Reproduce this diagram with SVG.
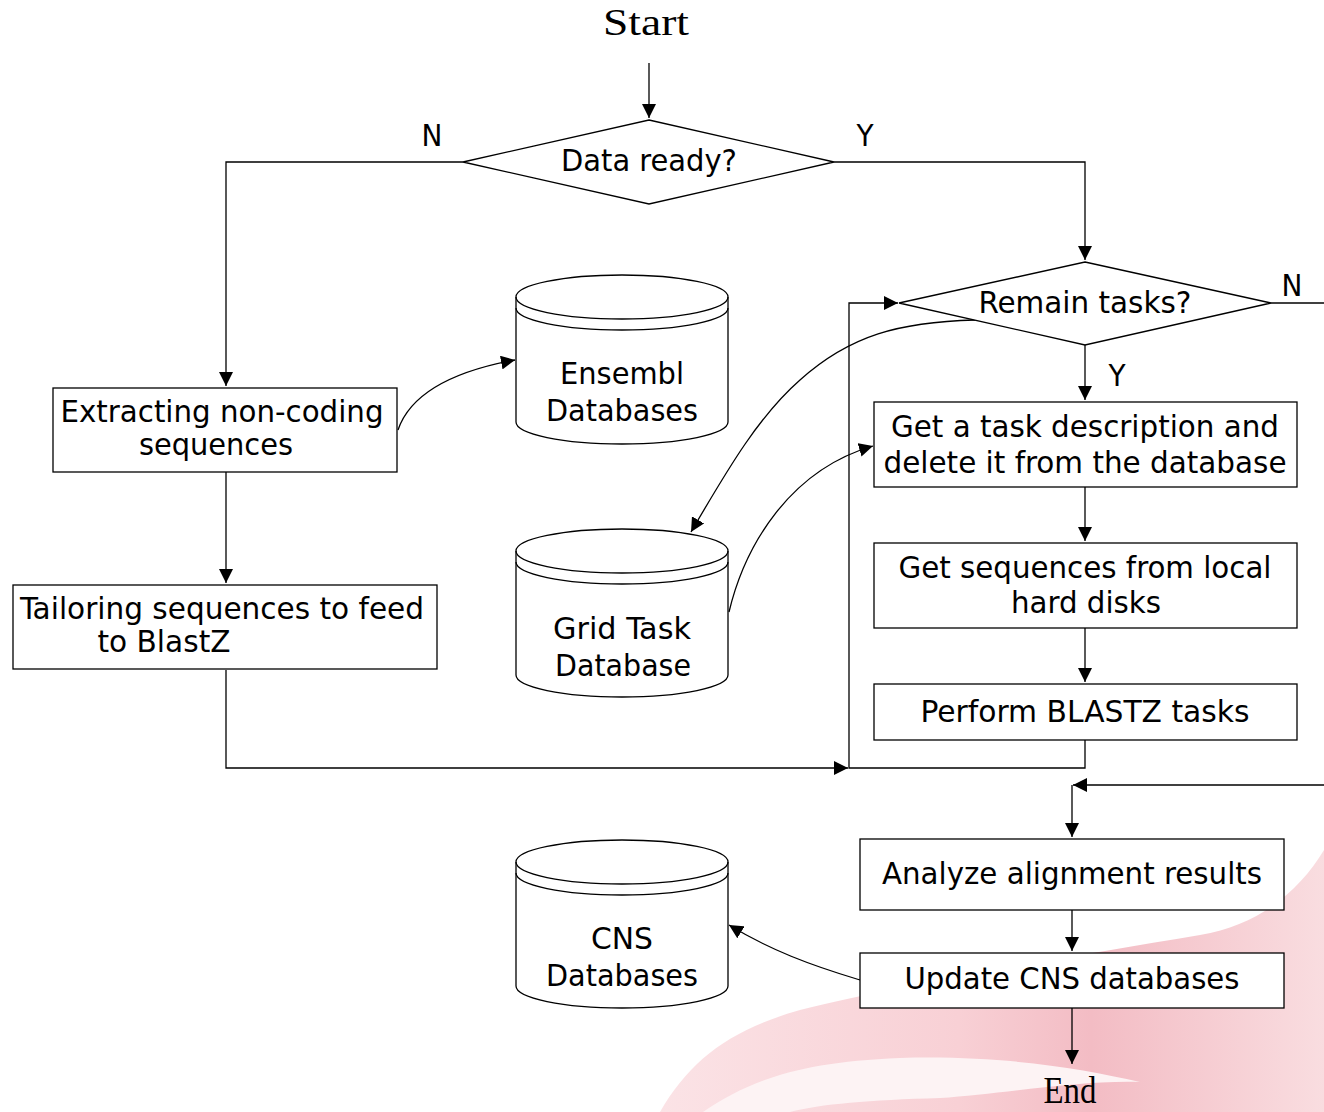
<svg xmlns="http://www.w3.org/2000/svg" width="1324" height="1112" viewBox="0 0 1324 1112">
<style>
.ln{fill:none;stroke:#000;stroke-width:1.3}
.bx{fill:#fff;stroke:#000;stroke-width:1.3}
.db{fill:none;stroke:#000;stroke-width:1.3}
.t{font-family:"DejaVu Sans Condensed","DejaVu Sans",sans-serif;font-size:31px;fill:#000;text-anchor:middle}
.s{font-family:"Liberation Serif",serif;font-size:37px;fill:#000;text-anchor:middle}
</style>
<defs>
<marker id="a" viewBox="0 0 10 10" refX="10" refY="5" markerWidth="14" markerHeight="14" markerUnits="userSpaceOnUse" orient="auto"><path d="M0,0L10,5L0,10z" fill="#000"/></marker>
<linearGradient id="pk" x1="660" y1="0" x2="1324" y2="0" gradientUnits="userSpaceOnUse">
<stop offset="0" stop-color="#fbe3e6"/><stop offset="0.45" stop-color="#f8d0d5"/><stop offset="0.65" stop-color="#f3bcc4"/><stop offset="1" stop-color="#f9dde0"/>
</linearGradient>
</defs>
<rect width="1324" height="1112" fill="#fff"/>
<g id="watermark">
<path d="M660,1112 C690,1060 730,1030 800,1010 C900,985 1050,960 1200,935 C1260,925 1300,890 1324,850 L1324,1112 Z" fill="url(#pk)"/>
<path d="M703,1112 C750,1080 800,1062 900,1058 C1000,1055 1080,1068 1140,1082 C1080,1080 1000,1094 940,1098 C870,1100 820,1104 790,1112 Z" fill="#fdf3f4"/>
</g>
<g id="connectors">
<path class="ln" d="M649,63V118" marker-end="url(#a)"/>
<path class="ln" d="M463,162H226V386" marker-end="url(#a)"/>
<path class="ln" d="M834,162H1085V260" marker-end="url(#a)"/>
<path class="ln" d="M1271,303H1324"/>
<path class="ln" d="M1085,345V400" marker-end="url(#a)"/>
<path class="ln" d="M1085,487V541" marker-end="url(#a)"/>
<path class="ln" d="M1085,628V682" marker-end="url(#a)"/>
<path class="ln" d="M1085,740V768H849V303H898" marker-end="url(#a)"/>
<path class="ln" d="M226,472V583" marker-end="url(#a)"/>
<path class="ln" d="M226,670V768H848" marker-end="url(#a)"/>
<path class="ln" d="M1324,785H1073" marker-end="url(#a)"/>
<path class="ln" d="M1072,785V837" marker-end="url(#a)"/>
<path class="ln" d="M1072,910V951" marker-end="url(#a)"/>
<path class="ln" d="M1072,1008V1064" marker-end="url(#a)"/>
<path class="ln" d="M398,430C410,395 450,372 515,360" marker-end="url(#a)"/>
<path class="ln" d="M975,320C900,322 850,335 800,380C760,415 730,465 691,532" marker-end="url(#a)"/>
<path class="ln" d="M729,612C745,545 790,470 873,446" marker-end="url(#a)"/>
<path class="ln" d="M860,980C810,965 770,950 729,925" marker-end="url(#a)"/>
</g>
<g id="start"><text class="s" x="646" y="35" textLength="86" lengthAdjust="spacingAndGlyphs">Start</text></g>
<g id="data-ready">
<path class="bx" d="M649,120L834,162L649,204L463,162Z"/>
<text class="t" x="649" y="171" textLength="176" lengthAdjust="spacingAndGlyphs">Data ready?</text>
<text class="t" x="432" y="146">N</text>
<text class="t" x="865" y="146">Y</text>
</g>
<g id="remain-tasks">
<path class="bx" d="M1085,262L1271,303L1085,345L899,303Z"/>
<text class="t" x="1085" y="313" textLength="213" lengthAdjust="spacingAndGlyphs">Remain tasks?</text>
<text class="t" x="1292" y="296">N</text>
<text class="t" x="1117" y="386">Y</text>
</g>
<g id="get-task">
<rect class="bx" x="874" y="402" width="423" height="85"/>
<text class="t" x="1085" y="437" textLength="388" lengthAdjust="spacingAndGlyphs">Get a task description and</text>
<text class="t" x="1085" y="473" textLength="403" lengthAdjust="spacingAndGlyphs">delete it from the database</text>
</g>
<g id="get-seq">
<rect class="bx" x="874" y="543" width="423" height="85"/>
<text class="t" x="1085" y="578" textLength="373" lengthAdjust="spacingAndGlyphs">Get sequences from local</text>
<text class="t" x="1086" y="613" textLength="150" lengthAdjust="spacingAndGlyphs">hard disks</text>
</g>
<g id="perform">
<rect class="bx" x="874" y="684" width="423" height="56"/>
<text class="t" x="1085" y="722" textLength="329" lengthAdjust="spacingAndGlyphs">Perform BLASTZ tasks</text>
</g>
<g id="analyze">
<rect class="bx" x="860" y="839" width="424" height="71"/>
<text class="t" x="1072" y="884" textLength="380" lengthAdjust="spacingAndGlyphs">Analyze alignment results</text>
</g>
<g id="update">
<rect class="bx" x="860" y="953" width="424" height="55"/>
<text class="t" x="1072" y="989" textLength="335" lengthAdjust="spacingAndGlyphs">Update CNS databases</text>
</g>
<g id="end"><text class="s" x="1070" y="1103" font-size="35" textLength="53" lengthAdjust="spacingAndGlyphs">End</text></g>
<g id="extracting">
<rect class="bx" x="53" y="388" width="344" height="84"/>
<text class="t" x="222" y="422" textLength="323" lengthAdjust="spacingAndGlyphs">Extracting non-coding</text>
<text class="t" x="216" y="455" textLength="154" lengthAdjust="spacingAndGlyphs">sequences</text>
</g>
<g id="tailoring">
<rect class="bx" x="13" y="585" width="424" height="84"/>
<text class="t" x="222" y="619" textLength="404" lengthAdjust="spacingAndGlyphs">Tailoring sequences to feed</text>
<text class="t" x="164" y="652" textLength="133" lengthAdjust="spacingAndGlyphs">to BlastZ</text>
</g>
<g id="ensembl">
<path class="db" d="M516,297A106,22 0 0 1 728,297V422A106,22 0 0 1 516,422Z"/>
<path class="db" d="M516,297A106,22 0 0 0 728,297M516,308A106,22 0 0 0 728,308"/>
<text class="t" x="622" y="384" textLength="124" lengthAdjust="spacingAndGlyphs">Ensembl</text>
<text class="t" x="622" y="421" textLength="152" lengthAdjust="spacingAndGlyphs">Databases</text>
</g>
<g id="grid-task">
<path class="db" d="M516,551A106,22 0 0 1 728,551V675A106,22 0 0 1 516,675Z"/>
<path class="db" d="M516,551A106,22 0 0 0 728,551M516,562A106,22 0 0 0 728,562"/>
<text class="t" x="622" y="639" textLength="138" lengthAdjust="spacingAndGlyphs">Grid Task</text>
<text class="t" x="623" y="676" textLength="136" lengthAdjust="spacingAndGlyphs">Database</text>
</g>
<g id="cns">
<path class="db" d="M516,862A106,22 0 0 1 728,862V986A106,22 0 0 1 516,986Z"/>
<path class="db" d="M516,862A106,22 0 0 0 728,862M516,873A106,22 0 0 0 728,873"/>
<text class="t" x="622" y="949" textLength="62" lengthAdjust="spacingAndGlyphs">CNS</text>
<text class="t" x="622" y="986" textLength="152" lengthAdjust="spacingAndGlyphs">Databases</text>
</g>
</svg>
